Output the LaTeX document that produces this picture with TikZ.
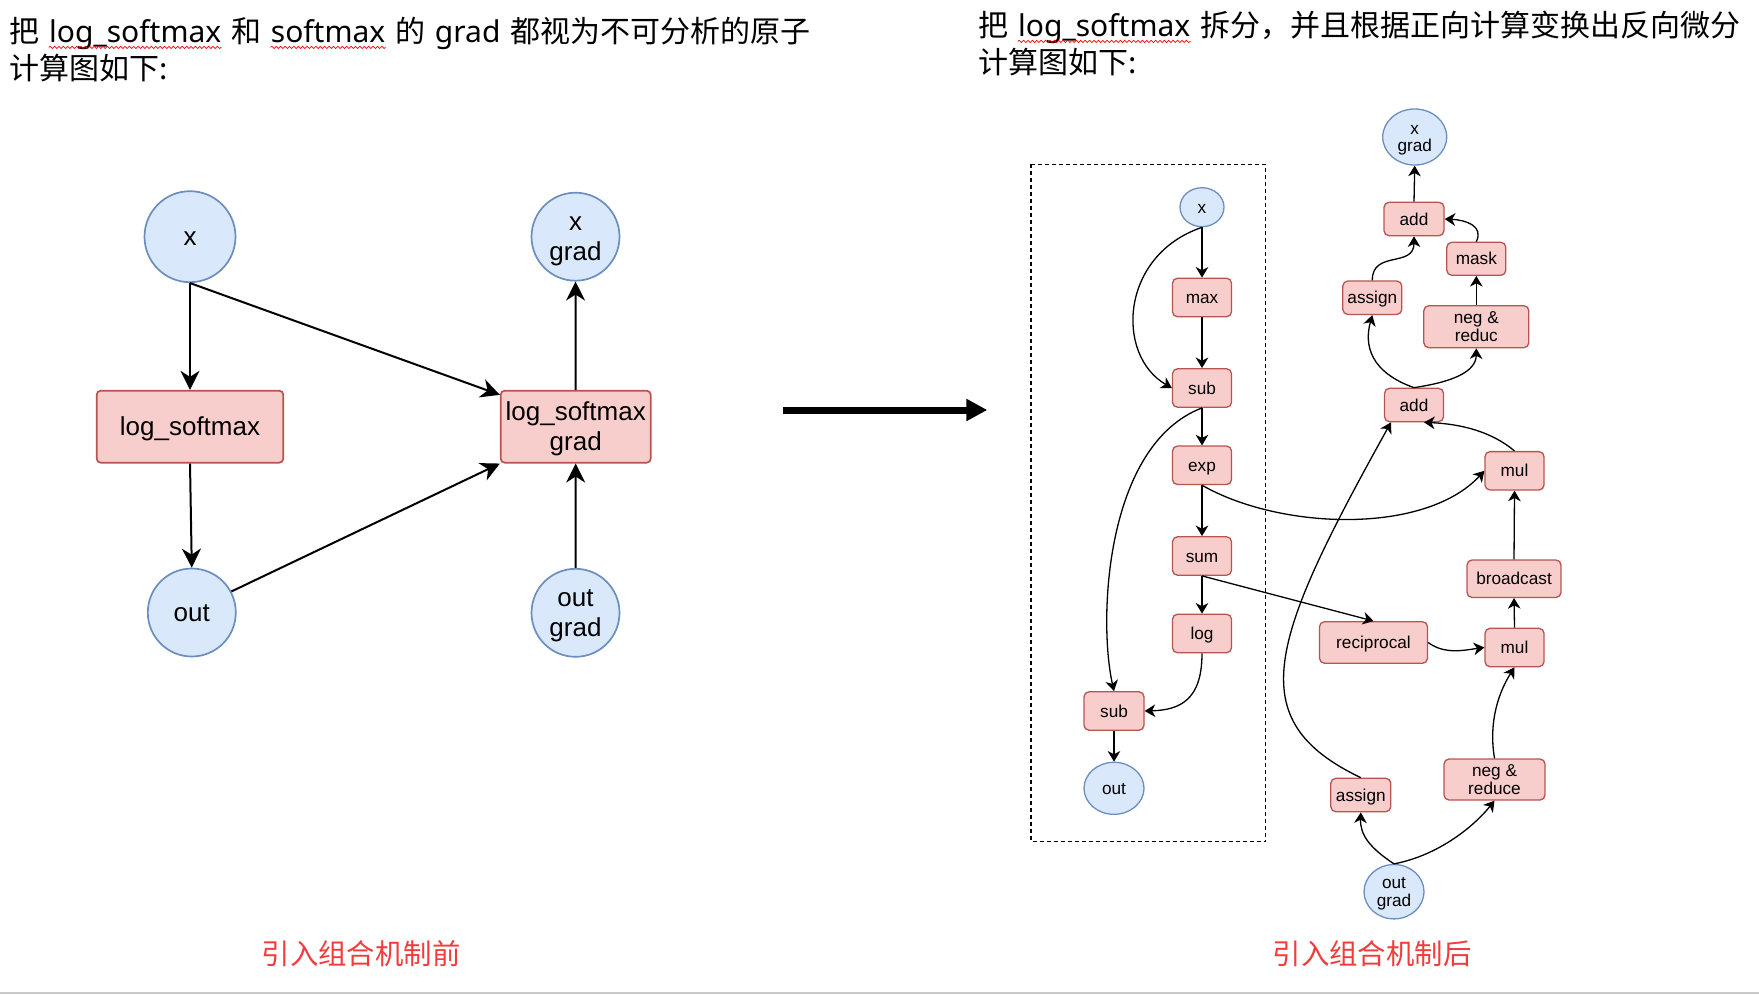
\documentclass[tikz,border=0pt]{standalone}
\usepackage{fontspec}
\setmainfont{Liberation Sans}
\newfontfamily\cjk{Noto Sans CJK SC}
\newfontfamily\lat{Noto Sans}
\usetikzlibrary{arrows.meta,shapes.geometric,decorations.pathmorphing}
\definecolor{bfill}{HTML}{DAE8FC}
\definecolor{bstroke}{HTML}{6C8EBF}
\definecolor{rfill}{HTML}{F8CECC}
\definecolor{rstroke}{HTML}{B85450}
\definecolor{capred}{RGB}{240,60,60}
\definecolor{sepgray}{RGB}{200,200,200}
\newcommand{\ls}{\rule[-0.25em]{0pt}{1.2em}}
\newcommand{\nolsk}{\lineskiplimit -100pt\relax}
\newcommand{\lfont}{\fontsize{13}{15}\selectfont\nolsk}
\newcommand{\rfont}{\fontsize{8.6}{8.9}\selectfont\nolsk}
\begin{document}
\begin{tikzpicture}[x=0.5pt,y=-0.5pt,
  lcirc/.style={circle, draw=bstroke, fill=bfill, line width=0.85pt, inner sep=0pt,
    minimum size=#1, align=center, font=\lfont},
  lbox/.style={rectangle, rounded corners=2pt, draw=rstroke, fill=rfill, line width=0.85pt,
    inner sep=0pt, minimum width=#1, minimum height=36pt, align=center, font=\lfont},
  larr/.style={line width=1pt, -{Stealth[length=9.5pt, width=9.5pt, inset=3pt]}},
  rell/.style={ellipse, draw=bstroke, fill=bfill, line width=0.65pt, inner sep=0pt,
    minimum width=#1, align=center, font=\rfont},
  rbox/.style={rectangle, rounded corners=2.5pt, draw=rstroke, fill=rfill, line width=0.65pt,
    inner sep=0pt, minimum width=#1, minimum height=19.25pt, align=center, font=\rfont},
  rarr/.style={line width=0.65pt, -{Stealth[length=5.3pt, width=6.3pt, inset=1.6pt]}},
  ttl/.style={inner sep=0pt, anchor=base west, font=\fontsize{15}{18}\selectfont},
  wavy/.style={draw=red, line width=0.35pt, decorate,
    decoration={snake, amplitude=0.55pt, segment length=2.2pt}},
  redlbl/.style={inner sep=0pt, text=capred, font=\cjk\fontsize{14.2}{16}\selectfont},
  boxdash/.style={draw=black, line width=0.55pt, dash pattern=on 2pt off 1.5pt}
]
\useasboundingbox (0,0) rectangle (1759,995);

% ---------- titles ----------
\node[ttl] (lt1) at (9,43) {\cjk 把};
\node[ttl, xshift=4.5pt] (lt2) at (lt1.base east) {\lat log\_softmax};
\node[ttl, xshift=4.5pt] (lt3) at (lt2.base east) {\cjk 和};
\node[ttl, xshift=4.5pt] (lt4) at (lt3.base east) {\lat softmax};
\node[ttl, xshift=4.5pt] (lt5) at (lt4.base east) {\cjk 的};
\node[ttl, xshift=4.5pt] (lt6) at (lt5.base east) {\lat grad};
\node[ttl, xshift=4.5pt] (lt7) at (lt6.base east) {\cjk 都视为不可分析的原子};
\node[ttl] (lt8) at (9,80) {\cjk 计算图如下:};
\draw[wavy] ([yshift=-2.2pt]lt2.base west) -- ([yshift=-2.2pt]lt2.base east);
\draw[wavy] ([yshift=-2.2pt]lt4.base west) -- ([yshift=-2.2pt]lt4.base east);

\node[ttl] (rt1) at (978,37) {\cjk 把};
\node[ttl, xshift=4.5pt] (rt2) at (rt1.base east) {\lat log\_softmax};
\node[ttl, xshift=4.5pt] (rt3) at (rt2.base east) {\cjk 拆分，并且根据正向计算变换出反向微分};
\node[ttl] (rt4) at (978,74) {\cjk 计算图如下:};
\draw[wavy] ([yshift=-2.2pt]rt2.base west) -- ([yshift=-2.2pt]rt2.base east);

% ---------- left diagram ----------
\node[lcirc=45.5pt] (lx) at (190,236.7) {\ls x};
\node[lcirc=44pt] (lxg) at (575.5,236.7) {\ls x\\\ls grad};
\node[lbox=93.3pt] (lls) at (190,426.7) {\ls log\_softmax};
\node[lbox=75pt] (llsg) at (575.7,426.7) {\ls log\_softmax\\\ls grad};
\node[lcirc=44pt] (lout) at (191.8,612.5) {\ls out};
\node[lcirc=44pt] (loutg) at (575.5,612.8) {\ls out\\\ls grad};

\draw[larr] (lx.south) -- (lls.north);
\draw[larr] (lx.south) -- ([yshift=-2.5pt]llsg.north west);
\draw[larr] (lls.south) -- (lout.north);
\draw[larr] (lout.28) -- (llsg.south west);
\draw[larr] (loutg.north) -- (llsg.south);
\draw[larr] (llsg.north) -- (lxg.south);

% ---------- big arrow ----------
\coordinate (ba1) at (782.7,410);
\coordinate (ba2) at (987.3,410);
\draw[line width=3.5pt, -{Triangle[length=10.5pt, width=10.5pt]}] (ba1) -- (ba2);

% ---------- right diagram: forward ----------
\draw[boxdash] (1031,164.3) rectangle (1265.7,841.7);
\node[rell=22pt, minimum height=19.5pt] (rx) at (1202,207.2) {\ls x};
\node[rbox=29.5pt] (max) at (1202,297.5) {\ls max};
\node[rbox=29.5pt] (sub1) at (1202,388) {\ls sub};
\node[rbox=29.5pt] (exp) at (1202,465.3) {\ls exp};
\node[rbox=29.5pt] (sum) at (1202,556) {\ls sum};
\node[rbox=29.5pt] (log) at (1202,633.5) {\ls log};
\node[rbox=30pt] (sub2) at (1114,711) {\ls sub};
\node[rell=30pt, minimum height=26pt] (rout) at (1114,788.3) {\ls out};

% ---------- right diagram: backward ----------
\node[rell=32pt, minimum height=28pt] (xg) at (1414.7,137) {\ls x\\\ls grad};
\node[rbox=30pt, minimum height=16.7pt] (add1) at (1414,219) {\ls add};
\node[rbox=29.5pt, minimum height=16.5pt] (mask) at (1476.3,258.8) {\ls mask};
\node[rbox=29.5pt, minimum height=16.7pt] (asg1) at (1372.3,297.7) {\ls assign};
\node[rbox=52.5pt, minimum height=21pt] (nr1) at (1476.3,326.7) {\ls neg \&\\\ls reduc};
\node[rbox=29.5pt, minimum height=16.7pt] (add2) at (1414,405) {\ls add};
\node[rbox=29.5pt, minimum height=19.2pt] (mul1) at (1514.5,470.8) {\ls mul};
\node[rbox=47pt, minimum height=18.7pt] (bc) at (1514,578.7) {\ls broadcast};
\node[rbox=54pt, minimum height=20.8pt] (recip) at (1373.5,642.5) {\ls reciprocal};
\node[rbox=29.5pt, minimum height=19.2pt] (mul2) at (1514.5,647.5) {\ls mul};
\node[rbox=50.5pt, minimum height=20.5pt] (nr2) at (1494.5,779.5) {\ls neg \&\\\ls reduce};
\node[rbox=30pt, minimum height=16.7pt] (asg2) at (1360.8,795) {\ls assign};
\node[rell=30pt, minimum height=25.5pt] (outg) at (1394,891.7) {\ls out\\\ls grad};

% forward edges
\draw[rarr] (rx.south) -- (max.north);
\draw[rarr] (rx.south) .. controls (1120,255) and (1115,355) .. (sub1.west);
\draw[rarr] (max.south) -- (sub1.north);
\draw[rarr] (sub1.south) -- (exp.north);
\draw[rarr] (sub1.south) .. controls (1105,445) and (1098,620) .. (sub2.north);
\draw[rarr] (exp.south) -- (sum.north);
\draw[rarr] (exp.south) .. controls (1280,530) and (1425,535) .. (mul1.west);
\draw[rarr] (sum.south) -- (log.north);
\draw[rarr] (sum.south) -- (recip.north);
\draw[rarr] (log.south) .. controls (1202,700) and (1180,710) .. (sub2.east);
\draw[rarr] (sub2.south) -- (rout.north);

% backward edges
\draw[rarr] (add1.north) -- (xg.south);
\draw[rarr] (asg1.north) .. controls (1372,250) and (1414,268) .. (add1.south);
\draw[rarr] (mask.north) .. controls (1484,226) and (1466,220) .. (add1.east);
\draw[rarr] (nr1.north) -- (mask.south);
\draw[rarr] (add2.north) .. controls (1370,372) and (1364,345) .. (asg1.south);
\draw[rarr] (add2.north) .. controls (1452,382) and (1476,372) .. (nr1.south);
\draw[rarr] (mul1.north) .. controls (1492,432) and (1462,424) .. (add2.-60);
\draw[rarr] (bc.north) -- (mul1.south);
\draw[rarr] (mul2.north) -- (bc.south);
\draw[rarr] (recip.east) .. controls (1445,655) and (1465,650) .. (mul2.west);
\draw[rarr] (nr2.north) .. controls (1488,720) and (1500,690) .. (mul2.south);
\draw[rarr] (asg2.north) .. controls (1240,720) and (1270,640) .. (add2.-143);
\draw[rarr] (outg.north) .. controls (1370,848) and (1360,835) .. (asg2.south);
\draw[rarr] (outg.north) .. controls (1440,855) and (1475,825) .. (nr2.south);

% ---------- captions ----------
\node[redlbl] (cap1) at (361,953.5) {引入组合机制前};
\node[redlbl] (cap2) at (1372,953.5) {引入组合机制后};

\coordinate (sg1) at (0,993);
\coordinate (sg2) at (1759,993);
\draw[sepgray, line width=1pt] (sg1) -- (sg2);
\end{tikzpicture}
\end{document}
